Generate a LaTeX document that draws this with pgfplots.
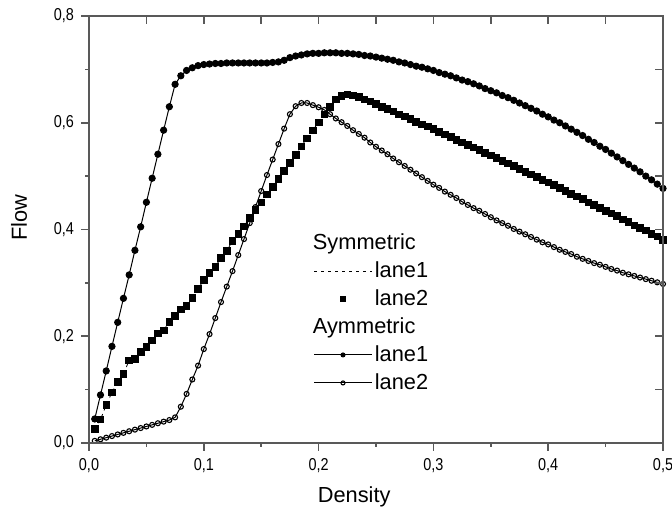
\documentclass[border=0pt]{standalone}
\usepackage{fontspec}
\setmainfont{Liberation Sans}
\newfontfamily\tickfont{Liberation Sans}[FakeStretch=0.84]
\usepackage{pgfplots}
\usepackage{pgfplotstable}
\pgfplotsset{compat=1.18}

% x, symmetric lane2 (lane1 lies under it), asymmetric lane1, asymmetric lane2
\pgfplotstableread{
x s2 a1 a2
0.005 0.026 0.045 0.004
0.010 0.044 0.090 0.007
0.015 0.071 0.135 0.010
0.020 0.095 0.181 0.013
0.025 0.114 0.226 0.016
0.030 0.129 0.271 0.019
0.035 0.155 0.315 0.022
0.040 0.157 0.361 0.025
0.045 0.171 0.405 0.028
0.050 0.180 0.451 0.031
0.055 0.192 0.496 0.034
0.060 0.205 0.541 0.037
0.065 0.211 0.586 0.040
0.070 0.227 0.630 0.043
0.075 0.238 0.672 0.048
0.080 0.250 0.688 0.068
0.085 0.257 0.698 0.092
0.090 0.272 0.703 0.119
0.095 0.289 0.707 0.145
0.100 0.305 0.709 0.176
0.105 0.319 0.710 0.204
0.110 0.330 0.711 0.234
0.115 0.347 0.711 0.264
0.120 0.360 0.712 0.293
0.125 0.379 0.712 0.322
0.130 0.392 0.712 0.352
0.135 0.406 0.712 0.382
0.140 0.422 0.712 0.412
0.145 0.437 0.712 0.442
0.150 0.451 0.712 0.472
0.155 0.466 0.712 0.502
0.160 0.480 0.713 0.531
0.165 0.495 0.714 0.560
0.170 0.510 0.717 0.589
0.175 0.525 0.722 0.616
0.180 0.540 0.725 0.631
0.185 0.556 0.727 0.637
0.190 0.571 0.729 0.637
0.195 0.586 0.730 0.633
0.200 0.601 0.730 0.629
0.205 0.616 0.731 0.624
0.210 0.630 0.731 0.616
0.215 0.644 0.731 0.608
0.220 0.650 0.730 0.601
0.225 0.653 0.730 0.594
0.230 0.651 0.729 0.586
0.235 0.648 0.728 0.579
0.240 0.644 0.726 0.572
0.245 0.640 0.725 0.563
0.250 0.635 0.723 0.555
0.255 0.630 0.721 0.548
0.260 0.626 0.719 0.541
0.265 0.621 0.717 0.533
0.270 0.616 0.714 0.526
0.275 0.612 0.712 0.519
0.280 0.607 0.709 0.512
0.285 0.602 0.706 0.505
0.290 0.597 0.704 0.498
0.295 0.593 0.701 0.491
0.300 0.588 0.698 0.484
0.305 0.583 0.694 0.478
0.310 0.578 0.691 0.471
0.315 0.573 0.688 0.465
0.320 0.568 0.684 0.459
0.325 0.563 0.680 0.452
0.330 0.558 0.677 0.446
0.335 0.554 0.673 0.440
0.340 0.549 0.669 0.435
0.345 0.544 0.664 0.429
0.350 0.539 0.660 0.423
0.355 0.534 0.656 0.417
0.360 0.529 0.651 0.412
0.365 0.524 0.647 0.407
0.370 0.519 0.642 0.401
0.375 0.513 0.637 0.396
0.380 0.508 0.632 0.391
0.385 0.503 0.627 0.386
0.390 0.498 0.622 0.381
0.395 0.493 0.616 0.376
0.400 0.488 0.611 0.372
0.405 0.483 0.605 0.367
0.410 0.478 0.600 0.362
0.415 0.472 0.594 0.358
0.420 0.467 0.588 0.354
0.425 0.462 0.582 0.349
0.430 0.457 0.576 0.345
0.435 0.451 0.569 0.341
0.440 0.446 0.563 0.337
0.445 0.441 0.556 0.334
0.450 0.435 0.550 0.330
0.455 0.430 0.543 0.326
0.460 0.425 0.536 0.323
0.465 0.419 0.529 0.319
0.470 0.414 0.522 0.316
0.475 0.408 0.515 0.313
0.480 0.403 0.508 0.310
0.485 0.398 0.500 0.307
0.490 0.392 0.493 0.304
0.495 0.387 0.485 0.301
0.500 0.381 0.477 0.298
}\flowdata

\pgfplotsset{
  flowaxis/.style={
    width=287bp, height=213.5bp, scale only axis,
    xmin=0, xmax=0.5, ymin=0, ymax=0.8,
    xtick={0,0.1,...,0.5}, ytick={0,0.2,...,0.8},
    minor x tick num=1, minor y tick num=1,
  },
  long line legend/.style={legend image code/.code={\draw[mark repeat=2,mark phase=2,##1]
      plot coordinates {(0bp,0bp) (14.5bp,0bp) (29bp,0bp)};}},
  centre mark legend/.style={legend image code/.code={\draw[##1]
      plot coordinates {(14.5bp,0bp)};}},
}

\begin{document}
\begin{tikzpicture}
\begin{axis}[
    flowaxis,
    axis line style={black!65, line width=0.8bp},
    tick style={black!65, line width=0.8bp},
    tick align=outside,
    xtick pos=left, ytick pos=left,
    major tick length=4bp, minor tick length=2bp,
    /pgf/number format/assume math mode=true,
    xticklabel style={/pgf/number format/fixed, /pgf/number format/fixed zerofill,
      /pgf/number format/precision=1, /pgf/number format/use comma},
    yticklabel style={/pgf/number format/fixed, /pgf/number format/fixed zerofill,
      /pgf/number format/precision=1, /pgf/number format/use comma},
    tick label style={font=\tickfont\fontsize{8.6bp}{10bp}\selectfont},
    label style={font=\fontsize{10.9bp}{13bp}\selectfont},
    xlabel={Density},
    xlabel style={at={(axis description cs:0.462,0)}, anchor=base, yshift=-30bp},
    ylabel={Flow},
    ylabel style={at={(axis description cs:0,0.528)}, anchor=base, yshift=31bp},
    legend style={draw=none, fill=none, at={(axis cs:0.19,0.405)}, anchor=north west,
      font=\fontsize{10.9bp}{13bp}\selectfont, row sep=2.2bp,
      nodes={inner sep=1.2bp}},
    legend cell align=left,
    long line legend,
  ]
\addlegendimage{empty legend}
\addlegendentry{\hspace*{-31bp}Symmetric}

\addplot[black, line width=0.4bp, dash pattern=on 1.5bp off 2bp, mark=none]
  table[x=x, y=s2] {\flowdata};
\addlegendentry{lane1}

\addplot[only marks, mark=square*, mark size=1.65bp, black, centre mark legend,
    legend image post style={mark size=1.25bp}]
  table[x=x, y=s2] {\flowdata};
\addlegendentry{lane2}

\addlegendimage{empty legend}
\addlegendentry{\hspace*{-31bp}Aymmetric}

\addplot[black, line width=0.5bp, mark=*, mark size=1.55bp,
    mark options={solid, fill=black},
    legend image post style={mark size=1bp}]
  table[x=x, y=a1] {\flowdata};
\addlegendentry{lane1}

\addplot[black, line width=0.5bp, mark=o, mark size=1.25bp,
    mark options={solid, fill=white, line width=0.55bp},
    legend image post style={mark size=1bp}]
  table[x=x, y=a2] {\flowdata};
\addlegendentry{lane2}
\end{axis}

% ticks of the top and right sides point inward
\begin{axis}[
    flowaxis,
    axis line style={black!65, line width=0.8bp},
    tick style={black!65, line width=0.8bp},
    tick align=inside,
    xtick pos=right, ytick pos=right,
    major tick length=4bp, minor tick length=4bp,
    xticklabels={}, yticklabels={},
  ]
\draw[black!65, line width=0.8bp] (rel axis cs:0,0) rectangle (rel axis cs:1,1);
\coordinate (SW) at (rel axis cs:0,0);
\coordinate (NE) at (rel axis cs:1,1);
\end{axis}
\pgfresetboundingbox
\useasboundingbox ([shift={(-44.5bp,-34bp)}]SW) rectangle ([shift={(4.5bp,8bp)}]NE);
\end{tikzpicture}
\end{document}
